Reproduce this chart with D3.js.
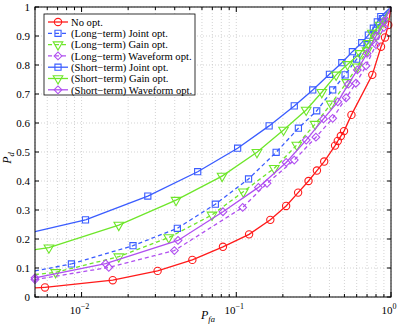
<!DOCTYPE html>
<html>
<head>
<meta charset="utf-8">
<script src="https://cdn.jsdelivr.net/npm/d3@7.9.0/dist/d3.min.js"></script>
<style>
  body { margin: 0; background: #fff; }
</style>
</head>
<body>
<div id="chart"></div>
<script>
// data: [Pfa, Pd]
const noOpt = [[0.0045,0.03],[0.0058,0.033],[0.0159,0.058],[0.031,0.09],[0.052,0.128],[0.082,0.173],[0.121,0.216],[0.166,0.266],[0.21,0.314],[0.251,0.36],[0.293,0.40],[0.332,0.436],[0.37,0.467],[0.435,0.522],[0.453,0.538],[0.474,0.555],[0.497,0.572],[0.555,0.628],[0.757,0.766],[0.862,0.863],[0.915,0.895],[0.96,0.938],[1,1]];
const longJoint = [[0.0045,0.085],[0.0086,0.114],[0.0215,0.177],[0.0416,0.237],[0.0732,0.32],[0.12,0.407],[0.181,0.499],[0.252,0.582],[0.331,0.642],[0.42,0.714],[0.505,0.766],[0.6,0.82],[0.7,0.87],[0.8,0.92],[0.88,0.96],[1,1]];
const longGain = [[0.0045,0.075],[0.0068,0.085],[0.0174,0.139],[0.0366,0.205],[0.0697,0.283],[0.111,0.363],[0.176,0.444],[0.246,0.524],[0.323,0.596],[0.41,0.666],[0.518,0.74],[0.606,0.794],[0.7,0.85],[0.8,0.9],[0.9,0.95],[1,1]];
const longWave = [[0.005,0.06],[0.015,0.102],[0.0398,0.16],[0.11,0.309],[0.158,0.392],[0.237,0.472],[0.327,0.551],[0.42,0.616],[0.513,0.687],[0.593,0.737],[0.69,0.797],[0.8,0.87],[0.9,0.93],[1,1]];
const shortJoint = [[0.0045,0.22],[0.0106,0.266],[0.0268,0.348],[0.0563,0.432],[0.102,0.513],[0.163,0.59],[0.237,0.659],[0.312,0.714],[0.40,0.768],[0.481,0.808],[0.563,0.846],[0.647,0.877],[0.714,0.903],[0.769,0.927],[0.816,0.949],[0.859,0.967],[1,1]];
const shortGain = [[0.0045,0.16],[0.00615,0.17],[0.0174,0.248],[0.0408,0.334],[0.081,0.417],[0.136,0.499],[0.202,0.576],[0.283,0.645],[0.357,0.706],[0.442,0.766],[0.523,0.802],[0.631,0.84],[0.714,0.875],[0.757,0.91],[0.85,0.938],[1,1]];
const shortWave = [[0.005,0.066],[0.0143,0.115],[0.042,0.195],[0.082,0.294],[0.139,0.378],[0.21,0.464],[0.283,0.541],[0.366,0.614],[0.453,0.673],[0.53,0.734],[0.606,0.783],[0.7,0.84],[0.8,0.9],[0.9,0.95],[1,1]];

const seriesNames = ["No opt.", "(Long\u2212term) Joint opt.", "(Long\u2212term) Gain opt.", "(Long\u2212term) Waveform opt.",
  "(Short\u2212term) Joint opt.", "(Short\u2212term) Gain opt.", "(Short\u2212term) Waveform opt."];
const yTicks = [0, 0.1, 0.2, 0.3, 0.4, 0.5, 0.6, 0.7, 0.8, 0.9, 1];
const xMajor = [0.01, 0.1, 1];
const xMajorExp = ["\u22122", "\u22121", "0"];

const red = "#ff1a1a", blue = "#3a5cff", green = "#6ee62a", purple = "#b04ff0";
const series = [
  { name: seriesNames[0], data: noOpt, color: red, dash: null, marker: "circle" },
  { name: seriesNames[1], data: longJoint, color: blue, dash: "4,3", marker: "square" },
  { name: seriesNames[2], data: longGain, color: green, dash: "4,3", marker: "tri" },
  { name: seriesNames[3], data: longWave, color: purple, dash: "4,3", marker: "diamond" },
  { name: seriesNames[4], data: shortJoint, color: blue, dash: null, marker: "square" },
  { name: seriesNames[5], data: shortGain, color: green, dash: null, marker: "tri" },
  { name: seriesNames[6], data: shortWave, color: purple, dash: null, marker: "diamond" }
];

const FONT = "'Liberation Serif', 'Times New Roman', serif";
const W = 409, H = 327;
const m = { left: 35, right: 18, top: 7, bottom: 30 };
const iw = W - m.left - m.right, ih = H - m.top - m.bottom;

const svg = d3.select("#chart").append("svg").attr("width", W).attr("height", H)
  .style("font-family", FONT);
svg.append("defs").append("clipPath").attr("id", "clip")
  .append("rect").attr("x", -5).attr("y", -5).attr("width", iw + 5).attr("height", ih + 5);

const g = svg.append("g").attr("transform", `translate(${m.left},${m.top})`);

const x = d3.scaleLog().domain([0.005, 1]).range([0, iw]);
const y = d3.scaleLinear().domain([0, 1]).range([ih, 0]);

// minor log ticks
const xMinor = [];
[0.001, 0.01, 0.1].forEach(dec => {
  for (let k = 2; k <= 9; k++) {
    const v = dec * k;
    if (v >= 0.005 && v < 1) xMinor.push(v);
  }
});
const xAll = xMinor.concat(xMajor);

// grid
g.selectAll(".xgrid").data(xAll).enter().append("line")
  .attr("x1", d => x(d)).attr("x2", d => x(d)).attr("y1", 0).attr("y2", ih)
  .attr("stroke", "#c8c8c8").attr("stroke-width", 0.8).attr("stroke-dasharray", "1,2");
g.selectAll(".ygrid").data(yTicks).enter().append("line")
  .attr("y1", d => y(d)).attr("y2", d => y(d)).attr("x1", 0).attr("x2", iw)
  .attr("stroke", "#c8c8c8").attr("stroke-width", 0.8).attr("stroke-dasharray", "1,2");

// series
const plot = g.append("g");
const line = d3.line().x(d => x(d[0])).y(d => y(d[1]));

function markerPath(sel, s) {
  if (s.marker === "tri") {
    sel.attr("d", d3.symbol().type(d3.symbolTriangle).size(40)).attr("transform", function () {
      return d3.select(this).attr("transform") + " rotate(180)";
    });
  } else if (s.marker === "diamond") {
    sel.attr("d", d3.symbol().type(d3.symbolSquare).size(30)).attr("transform", function () {
      return d3.select(this).attr("transform") + " rotate(45)";
    });
  } else if (s.marker === "square") {
    sel.attr("d", d3.symbol().type(d3.symbolSquare).size(38));
  } else {
    sel.attr("d", d3.symbol().type(d3.symbolCircle).size(42));
  }
}

series.forEach(s => {
  plot.append("path").datum(s.data.filter(d => d[0] >= 0.005))
    .attr("d", line).attr("fill", "none")
    .attr("stroke", s.color).attr("stroke-width", 1.3)
    .attr("stroke-dasharray", s.dash)
    .attr("clip-path", "url(#clip)");
  // segment from the left edge
  const first = s.data[0], second = s.data[1];
  if (first[0] < 0.005) {
    const t = (Math.log(0.005) - Math.log(first[0])) / (Math.log(second[0]) - Math.log(first[0]));
    const yEdge = first[1] + t * (second[1] - first[1]);
    plot.append("path").datum([[0.005, yEdge], second])
      .attr("d", line).attr("fill", "none")
      .attr("stroke", s.color).attr("stroke-width", 1.3)
      .attr("stroke-dasharray", s.dash);
  }
  const pts = s.data.filter(d => d[0] >= 0.005 && d[0] < 1);
  const mk = plot.selectAll(null).data(pts).enter().append("path")
    .attr("transform", d => `translate(${x(d[0])},${y(d[1])})`)
    .attr("fill", "none").attr("stroke", s.color).attr("stroke-width", 1.1);
  markerPath(mk, s);
});

// frame
g.append("rect").attr("width", iw).attr("height", ih)
  .attr("fill", "none").attr("stroke", "#000").attr("stroke-width", 1);

// ticks (inward, on all sides)
g.selectAll(".xtb").data(xAll).enter().append("line")
  .attr("x1", d => x(d)).attr("x2", d => x(d))
  .attr("y1", ih).attr("y2", d => ih - (xMajor.includes(d) ? 5 : 3)).attr("stroke", "#000");
g.selectAll(".xtt").data(xAll).enter().append("line")
  .attr("x1", d => x(d)).attr("x2", d => x(d))
  .attr("y1", 0).attr("y2", d => (xMajor.includes(d) ? 5 : 3)).attr("stroke", "#000");
g.selectAll(".ytl").data(yTicks).enter().append("line")
  .attr("y1", d => y(d)).attr("y2", d => y(d)).attr("x1", 0).attr("x2", 4).attr("stroke", "#000");
g.selectAll(".ytr").data(yTicks).enter().append("line")
  .attr("y1", d => y(d)).attr("y2", d => y(d)).attr("x1", iw).attr("x2", iw - 4).attr("stroke", "#000");

// tick labels
g.selectAll(".ylab").data(yTicks).enter().append("text")
  .attr("x", -5).attr("y", d => y(d)).attr("dy", "0.35em")
  .attr("text-anchor", "end").attr("font-size", 11)
  .text(d => d === 0 ? "0" : d === 1 ? "1" : d3.format(".1f")(d));

xMajor.forEach((v, i) => {
  const t = g.append("text").attr("x", x(v) - 2).attr("y", ih + 17)
    .attr("text-anchor", "middle").attr("font-size", 11);
  t.append("tspan").text("10");
  t.append("tspan").attr("dy", -5).attr("font-size", 8).text(xMajorExp[i]);
});

// axis labels
const xl = svg.append("text").attr("x", 208).attr("y", 319).attr("text-anchor", "middle").attr("font-size", 12);
xl.append("tspan").attr("font-style", "italic").text("P");
xl.append("tspan").attr("font-style", "italic").attr("font-size", 8.5).attr("dy", 3).text("fa");

const yl = svg.append("text").attr("transform", "translate(11,158) rotate(-90)")
  .attr("text-anchor", "middle").attr("font-size", 12);
yl.append("tspan").attr("font-style", "italic").text("P");
yl.append("tspan").attr("font-style", "italic").attr("font-size", 8.5).attr("dy", 3).text("d");

// legend
const lg = svg.append("g").attr("transform", "translate(44,14)");
lg.append("rect").attr("width", 151).attr("height", 81)
  .attr("fill", "#fff").attr("stroke", "#000").attr("stroke-width", 0.8);
series.forEach((s, i) => {
  const row = lg.append("g").attr("transform", `translate(0,${8 + i * 11.3})`);
  row.append("line").attr("x1", 4).attr("x2", 24).attr("y1", 0).attr("y2", 0)
    .attr("stroke", s.color).attr("stroke-width", 1.3).attr("stroke-dasharray", s.dash);
  const mk = row.append("path").attr("transform", "translate(14,0)")
    .attr("fill", "none").attr("stroke", s.color).attr("stroke-width", 1.1);
  markerPath(mk, s);
  row.append("text").attr("x", 27).attr("y", 0).attr("dy", "0.35em")
    .attr("font-size", 10.6).text(s.name);
});
</script>
</body>
</html>
